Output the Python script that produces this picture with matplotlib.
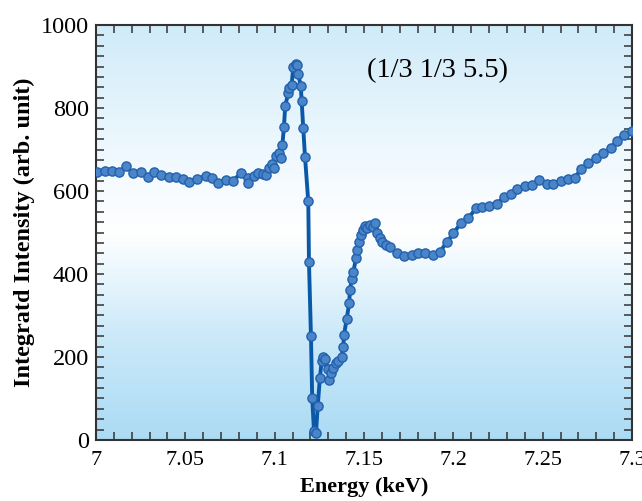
import numpy as np
import matplotlib
matplotlib.use("Agg")
import matplotlib.pyplot as plt
from matplotlib.colors import LinearSegmentedColormap
from matplotlib.ticker import MultipleLocator

plt.rcParams["font.family"] = ["Liberation Serif", "DejaVu Serif"]

# Dane
energy = [7.0004, 7.0050, 7.0091, 7.0129, 7.0168, 7.0205, 7.0252, 7.0289, 7.0325, 7.0364,
          7.0409, 7.0448, 7.0485, 7.0522, 7.0567, 7.0614, 7.0651, 7.0684, 7.0727, 7.0768,
          7.0810, 7.0849, 7.0852, 7.0886, 7.0908, 7.0936, 7.0950, 7.0968, 7.0987, 7.0998,
          7.1007, 7.1024, 7.1035, 7.1043, 7.1052, 7.1059, 7.1076, 7.1082, 7.1095, 7.1104,
          7.1119, 7.1126, 7.1132, 7.1146, 7.1151, 7.1160, 7.1170, 7.1188, 7.1192, 7.1203,
          7.1210, 7.1220, 7.1231, 7.1241, 7.1253, 7.1263, 7.1272, 7.1281, 7.1300, 7.1306,
          7.1313, 7.1328, 7.1343, 7.1356, 7.1375, 7.1384, 7.1388, 7.1403, 7.1417, 7.1421,
          7.1431, 7.1440, 7.1455, 7.1462, 7.1473, 7.1481, 7.1496, 7.1505, 7.1518, 7.1533,
          7.1548, 7.1561, 7.1574, 7.1589, 7.1599, 7.1623, 7.1645, 7.1683, 7.1724, 7.1767,
          7.1804, 7.1841, 7.1884, 7.1925, 7.1966, 7.2000, 7.2041, 7.2083, 7.2126, 7.2158,
          7.2199, 7.2242, 7.2283, 7.2322, 7.2358, 7.2401, 7.2438, 7.2481, 7.2522, 7.2559,
          7.2600, 7.2643, 7.2680, 7.2712, 7.2755, 7.2798, 7.2839, 7.2880, 7.2914, 7.2955,
          7.2998]
intensity = [646, 649, 648, 645, 661, 643, 646, 634, 646, 638,
             634, 633, 628, 622, 629, 637, 632, 620, 626, 625,
             643, 632, 620, 637, 643, 642, 638, 656, 665, 655,
             685, 691, 679, 710, 755, 805, 836, 848, 855, 900,
             906, 904, 882, 853, 817, 751, 681, 575, 428, 251,
             102, 22, 16, 82, 149, 191, 201, 194, 170, 145,
             161, 173, 185, 190, 201, 225, 253, 292, 329, 361,
             387, 404, 438, 458, 478, 494, 506, 516, 510, 518,
             514, 522, 500, 486, 476, 470, 464, 451, 443, 446,
             450, 450, 446, 454, 478, 498, 522, 534, 558, 561,
             564, 569, 585, 593, 606, 611, 614, 627, 617, 618,
             624, 630, 631, 652, 667, 679, 691, 703, 720, 736,
             745]
x_ticks = [7.0, 7.05, 7.1, 7.15, 7.2, 7.25, 7.3]
x_labels = ["7", "7.05", "7.1", "7.15", "7.2", "7.25", "7.3"]

fig = plt.figure(figsize=(6.42, 5.01), dpi=100)
ax = fig.add_axes([0.1495, 0.1218, 0.835, 0.8282])

# Tło z gradientem
tlo = LinearSegmentedColormap.from_list("tlo", [
    (0.0, "#abdbf4"), (0.25, "#cbe9f9"), (0.5, "#ffffff"),
    (0.7, "#eef8fe"), (1.0, "#d0ebf9")])
grad = np.linspace(0, 1, 256).reshape(-1, 1)
ax.imshow(grad, cmap=tlo, origin="lower", aspect="auto",
          extent=[7.0, 7.3, 0, 1000], zorder=0)

ax.plot(energy, intensity, color="#0a58a8", linewidth=2.8, marker="o",
        markersize=6.6, markerfacecolor="#4a84c9", markeredgecolor="#2361ab",
        markeredgewidth=1.0, zorder=3)

ax.set_xlim(7.0, 7.3)
ax.set_ylim(0, 1000)
ax.xaxis.set_minor_locator(MultipleLocator(0.01))
ax.yaxis.set_major_locator(MultipleLocator(200))
ax.yaxis.set_minor_locator(MultipleLocator(25))
ax.set_xticks(x_ticks)
ax.set_xticklabels(x_labels)
ax.tick_params(which="both", direction="in", top=True, right=True,
               length=6, width=1.1, color="#333333")
ax.tick_params(axis="x", labelsize=16, pad=8)
ax.tick_params(axis="y", labelsize=17.5, pad=5)

for s in ax.spines.values():
    s.set_color("#333333")
    s.set_linewidth(1.5)

ax.set_xlabel("Energy (keV)", fontsize=16, fontweight="bold", labelpad=5)
ax.set_ylabel("Integratd Intensity (arb. unit)", fontsize=17.5, fontweight="bold", labelpad=4)
ax.text(7.191, 890, "(1/3 1/3 5.5)", fontsize=20.5, ha="center", va="center")

plt.savefig("out.png", dpi=100)
